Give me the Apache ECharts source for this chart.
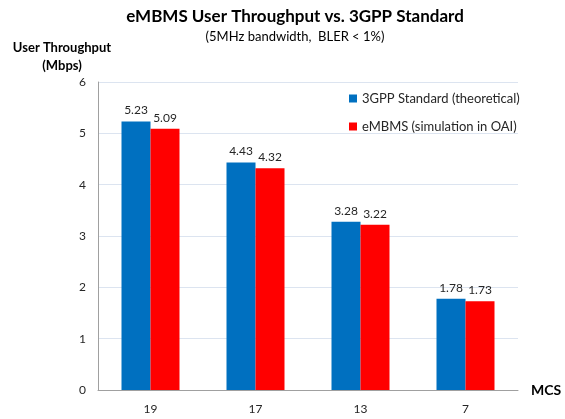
<!DOCTYPE html>
<html lang="en">
<head>
  <meta charset="UTF-8">
  <title>eMBMS User Throughput</title>
  <style>html,body{margin:0;padding:0;background:#fff}</style>
</head>
<body>
<div id="main" style="width: 565px;height: 419px"></div>
<script type="text/javascript" src="https://cdn.jsdelivr.net/npm/echarts@6/dist/echarts.min.js"></script>
<script>
var mcs = ['19', '17', '13', '7'];
var standard = [5.23, 4.43, 3.28, 1.78];
var embms = [5.09, 4.32, 3.22, 1.73];
var seriesNames = ['3GPP Standard (theoretical)', 'eMBMS (simulation in OAI)'];

var font = 'Lato, "Open Sans", sans-serif';

var labelOpt = {
  show: true,
  position: 'top',
  distance: 5,
  color: '#262626',
  fontFamily: font,
  fontSize: 12,
  formatter: function (p) { return p.value.toFixed(2); }
};

var option = {
  animation: false,
  title: {
    text: 'eMBMS User Throughput vs. 3GPP Standard',
    subtext: '(5MHz bandwidth,  BLER < 1%)',
    left: 290,
    textAlign: 'center',
    top: 3,
    itemGap: 5,
    textStyle: { fontFamily: font, fontSize: 17, fontWeight: 'bold', color: '#000' },
    subtextStyle: { fontFamily: font, fontSize: 13, color: '#000' }
  },
  legend: {
    orient: 'vertical',
    left: 344,
    top: 87,
    itemWidth: 8,
    itemHeight: 8,
    itemGap: 15,
    icon: 'rect',
    textStyle: { fontFamily: font, fontSize: 13, color: '#262626' },
    data: seriesNames
  },
  grid: { left: 98, right: 47, top: 82, bottom: 29 },
  xAxis: {
    type: 'category',
    data: mcs,
    name: 'MCS',
    nameLocation: 'end',
    nameGap: 13,
    nameTextStyle: { fontFamily: font, fontSize: 14, fontWeight: 'bold', color: '#000' },
    axisLine: { lineStyle: { color: '#a0a0a0', width: 1 } },
    axisTick: { show: false },
    axisLabel: { margin: 13, fontFamily: font, fontSize: 12, color: '#262626' }
  },
  yAxis: {
    type: 'value',
    min: 0,
    max: 6,
    interval: 1,
    name: 'User Throughput\n(Mbps)',
    nameLocation: 'end',
    nameGap: 7,
    nameTextStyle: { fontFamily: font, fontSize: 13, fontWeight: 'bold', color: '#000', align: 'center', lineHeight: 18, padding: [0, 72, 0, 0] },
    axisLine: { show: true, lineStyle: { color: '#a0a0a0', width: 1 } },
    axisTick: { show: false },
    axisLabel: { margin: 12, fontFamily: font, fontSize: 12, color: '#262626' },
    splitLine: { lineStyle: { color: '#dce4f0', width: 1 } }
  },
  series: [{
    name: seriesNames[0],
    type: 'bar',
    data: standard,
    barWidth: 29,
    barGap: '0%',
    itemStyle: { color: '#0070c0' },
    label: labelOpt
  }, {
    name: seriesNames[1],
    type: 'bar',
    data: embms,
    barWidth: 29,
    barGap: '0%',
    itemStyle: { color: '#ff0000' },
    label: labelOpt
  }]
};

var myChart = echarts.init(document.getElementById('main'));
myChart.setOption(option);
</script>
</body>
</html>
